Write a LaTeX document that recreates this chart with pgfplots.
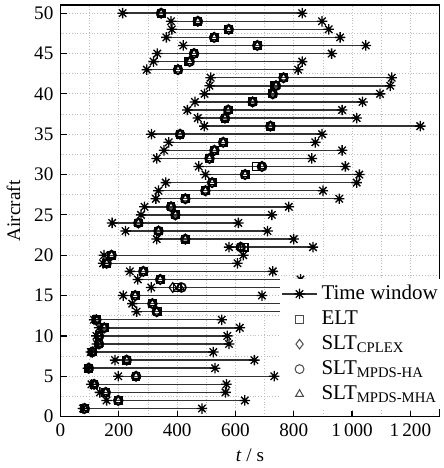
\documentclass[border=0pt]{standalone}
\usepackage{pgfplots}
\pgfplotsset{compat=1.18}
\usepackage{pgfplotstable}
\usepackage{fontspec}
\setmainfont{Liberation Serif}

\pgfdeclareplotmark{ast8}{%
 \pgfpathmoveto{\pgfqpoint{-\pgfplotmarksize}{0pt}}\pgfpathlineto{\pgfqpoint{\pgfplotmarksize}{0pt}}%
 \pgfpathmoveto{\pgfqpoint{0pt}{-\pgfplotmarksize}}\pgfpathlineto{\pgfqpoint{0pt}{\pgfplotmarksize}}%
 \pgfpathmoveto{\pgfqpoint{-0.707\pgfplotmarksize}{-0.707\pgfplotmarksize}}\pgfpathlineto{\pgfqpoint{0.707\pgfplotmarksize}{0.707\pgfplotmarksize}}%
 \pgfpathmoveto{\pgfqpoint{-0.707\pgfplotmarksize}{0.707\pgfplotmarksize}}\pgfpathlineto{\pgfqpoint{0.707\pgfplotmarksize}{-0.707\pgfplotmarksize}}%
 \pgfusepathqstroke}

\pgfplotstableread{
a s e elt cplex ha mha
1 77 485 83 83 83 83
2 158 632 198 198 198 198
3 135 566 155 155 155 155
4 106 569 115 115 115 115
5 198 733 259 259 259 259
6 94 530 97 97 97 97
7 187 665 227 227 227 227
8 104 524 109 109 109 109
9 125 578 132 132 132 132
10 123 572 132 132 132 132
11 132 615 150 150 150 150
12 115 553 123 123 123 123
13 261 790 333 330 330 330
14 246 800 315 315 315 315
15 215 691 256 256 256 256
16 311 780 400 385 415 410
17 265 823 342 342 342 342
18 238 728 284 284 284 284
19 146 607 158 158 158 158
20 149 627 175 175 175 175
21 578 866 630 618 618 618
22 330 800 428 428 428 428
23 223 710 336 336 336 336
24 177 610 267 267 267 267
25 276 725 394 394 394 394
26 288 783 379 379 379 379
27 327 956 428 428 428 428
28 336 900 497 497 497 497
29 361 1016 520 520 520 520
30 497 1025 633 633 633 633
31 474 977 671 691 691 691
32 330 862 511 511 511 511
33 355 966 528 528 528 528
34 371 874 558 558 558 558
35 312 897 410 410 410 410
36 493 1234 720 720 720 720
37 471 1016 564 564 564 564
38 435 966 575 575 575 575
39 461 1036 659 659 659 659
40 494 1096 728 728 728 728
41 511 1131 735 739 739 739
42 515 1136 765 765 765 765
43 296 815 403 403 403 403
44 319 829 440 443 443 443
45 332 930 458 458 458 458
46 421 1047 675 675 675 675
47 363 959 527 527 527 527
48 382 920 577 577 577 577
49 379 897 471 471 471 471
50 213 829 345 345 345 345
}\data

\begin{document}
\begin{tikzpicture}
\begin{axis}[
  scale only axis,
  width=187.9pt, height=204pt,
  xmin=0, xmax=1300, ymin=0, ymax=51,
  xtick={0,200,...,1200}, ytick={0,5,...,50},
  xticklabels={0,200,400,600,800,1\,000,1\,200},
  yticklabels={0,5,10,15,20,25,30,35,40,45,50},
  minor x tick num=1, minor y tick num=1,
  grid=both,
  major grid style={densely dotted, black!25, line width=0.4pt},
  minor grid style={densely dotted, black!25, line width=0.4pt},
  tick align=inside, tick pos=left,
  major tick length=3pt, minor tick length=0pt,
  axis line style={line width=0.8pt},
  every tick/.style={black, line width=0.6pt},
  tick label style={font=\fontsize{9.5}{11}\selectfont},
  label style={font=\fontsize{9.5}{11}\selectfont},
  xlabel={\textit{t} / s}, ylabel={Aircraft},
  xlabel style={yshift=1pt},
  legend style={at={(0.577,0.335)}, anchor=north west, draw=none, fill=white,
    font=\fontsize{10.4}{12}\selectfont, row sep=0pt, inner sep=1pt},
  legend cell align=left,
]
\addplot[quiver={u=\thisrow{e}-\thisrow{s}, v=0}, black!80, line width=0.7pt, forget plot] table[x=s,y=a]{\data};
\addplot[only marks, mark=ast8, mark size=2.6pt, black, mark options={line width=0.65pt}, forget plot] table[x=s,y=a]{\data};
\addplot[only marks, mark=ast8, mark size=2.6pt, black, mark options={line width=0.65pt}, forget plot] table[x=e,y=a]{\data};
\addplot[only marks, mark=square, mark size=1.9pt, black, mark options={line width=0.6pt}, forget plot] table[x=elt,y=a]{\data};
\addplot[only marks, mark=diamond, mark size=2.4pt, black, mark options={line width=0.6pt}, forget plot] table[x=cplex,y=a]{\data};
\addplot[only marks, mark=o, mark size=2.2pt, black, mark options={line width=0.8pt}, forget plot] table[x=ha,y=a]{\data};
\addplot[only marks, mark=triangle, mark size=2.2pt, black, mark options={line width=0.6pt}, forget plot] table[x=mha,y=a]{\data};
\addlegendimage{black!80, line width=0.7pt, mark=ast8, mark size=2.6pt, mark options={black, line width=0.65pt}}
\addlegendentry{Time window}
\addlegendimage{only marks, mark=square, mark size=1.9pt, black!70, mark options={line width=0.5pt}}
\addlegendentry{ELT}
\addlegendimage{only marks, mark=diamond, mark size=2.4pt, black!70, mark options={line width=0.5pt}}
\addlegendentry{SLT\textsubscript{CPLEX}}
\addlegendimage{only marks, mark=o, mark size=2.2pt, black!70, mark options={line width=0.5pt}}
\addlegendentry{SLT\textsubscript{MPDS-HA}}
\addlegendimage{only marks, mark=triangle, mark size=2.2pt, black!70, mark options={line width=0.5pt}}
\addlegendentry{SLT\textsubscript{MPDS-MHA}}
\end{axis}
\end{tikzpicture}
\end{document}
